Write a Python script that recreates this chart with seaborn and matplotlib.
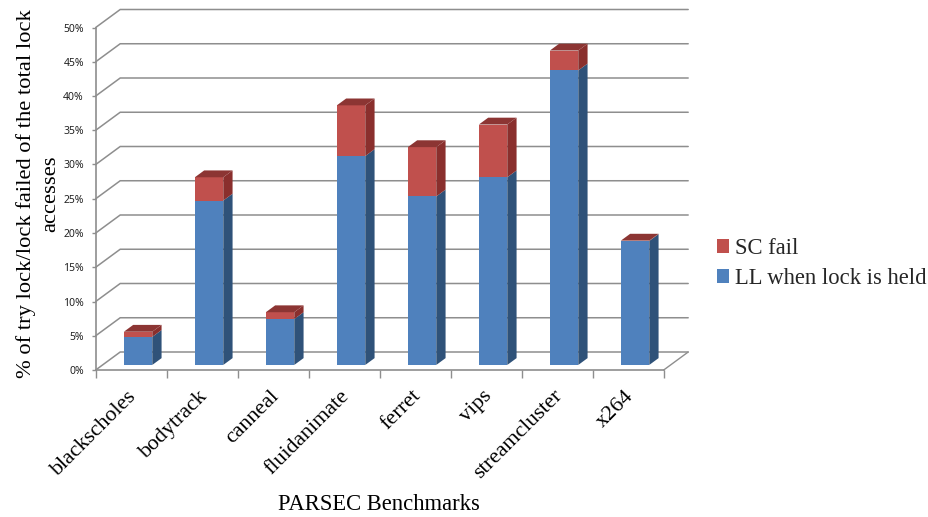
import matplotlib
matplotlib.use("Agg")
import matplotlib.pyplot as plt
import numpy as np
import pandas as pd
import seaborn as sns
from matplotlib.patches import Polygon
from matplotlib.transforms import ScaledTranslation

benchmarks = ["blackscholes", "bodytrack", "canneal", "fluidanimate",
              "ferret", "vips", "streamcluster", "x264"]
ll_when_held = [4.1, 24.0, 6.7, 30.5, 24.6, 27.4, 43.0, 18.1]
sc_fail = [0.75, 3.4, 1.0, 7.4, 7.2, 7.7, 2.9, 0.05]
y_ticks = list(range(0, 55, 5))

W, H = 929, 517
BLUE, BLUE_SIDE = "#4F81BD", "#2F5279"
RED, RED_SIDE, RED_TOP = "#C0504D", "#8A2F2D", "#8C3533"
GRID = "#8E8E8E"

sns.set_theme(style="white")
plt.rcParams["font.family"] = ["Liberation Serif", "DejaVu Sans"]

df = pd.DataFrame({"benchmark": benchmarks, "ll": ll_when_held, "sc": sc_fail})
df["total"] = df["ll"] + df["sc"]

fig = plt.figure(figsize=(W / 100, H / 100), dpi=100)
ax = fig.add_axes([95.7 / W, 1 - 370 / H, 568 / W, 342.5 / H])

sns.barplot(data=df, x="benchmark", y="total", color=RED, saturation=1, width=0.40,
            linewidth=0, label="SC fail", ax=ax, zorder=3)
sns.barplot(data=df, x="benchmark", y="ll", color=BLUE, saturation=1, width=0.40,
            linewidth=0, label="LL when lock is held", ax=ax, zorder=4)

n = len(benchmarks)
ax.set_xlim(-0.5, n - 0.5)
ax.set_ylim(0, 50)

# oblique depth vector of the pseudo-3D box, in data units
DX, DY = 24.5 / 71, 18 / 6.85
F0, F1 = 0.28, 0.66   # front / back of each bar as a fraction of the depth
x0, x1 = ax.get_xlim()

# wall and floor lines follow the y ticks
for t in y_ticks:
    ax.plot([x0, x0 + DX, x1 + DX], [t, t + DY, t + DY], color=GRID, lw=1.1,
            clip_on=False, zorder=1, solid_joinstyle="miter")
ax.plot([x1, x1 + DX], [0, DY], color=GRID, lw=1.0, clip_on=False, zorder=1)

# shift the front faces to their depth, add side and top faces
base = F0 * DY
for container in ax.containers:
    for p in container:
        p.set_x(p.get_x() + F0 * DX)
        p.set_y(base)
        p.set_clip_on(False)

dx = (F1 - F0) * DX
dy = (F1 - F0) * DY
for i, (ll, tot) in enumerate(zip(df["ll"], df["total"])):
    xl = i - 0.20 + F0 * DX
    xr = i + 0.20 + F0 * DX
    lo, mid, hi = base, base + ll, base + tot
    ax.add_patch(Polygon([(xr, lo), (xr + dx, lo + dy), (xr + dx, mid + dy), (xr, mid)],
                         fc=BLUE_SIDE, ec="none", zorder=3, clip_on=False))
    ax.add_patch(Polygon([(xr, mid), (xr + dx, mid + dy), (xr + dx, hi + dy), (xr, hi)],
                         fc=RED_SIDE, ec="none", zorder=3, clip_on=False))
    ax.add_patch(Polygon([(xl, hi), (xr, hi), (xr + dx, hi + dy), (xl + dx, hi + dy)],
                         fc=RED_TOP, ec="none", zorder=3, clip_on=False))

# axes furniture
sns.despine(ax=ax)
for s in ("left", "bottom"):
    ax.spines[s].set_color(GRID)
    ax.spines[s].set_linewidth(1.2)
ax.set_yticks(y_ticks)
ax.set_yticklabels([f"{t}%" for t in y_ticks], family="Noto Sans", fontsize=7.5,
                   color="#222222")
ax.tick_params(axis="y", length=3, width=1, color=GRID, pad=5.5, left=True)
ax.set_xticks(np.arange(n + 1) - 0.5)
ax.set_xticklabels([])
ax.tick_params(axis="x", which="major", length=5.5, width=1, color=GRID, bottom=True)
ax.set_xticks(np.arange(n), benchmarks, minor=True)
ax.tick_params(axis="x", which="minor", length=0, pad=9)
label_shift = ScaledTranslation(-4 / 100, -4 / 100, fig.dpi_scale_trans)
for lab in ax.get_xticklabels(minor=True):
    lab.set(rotation=45, ha="right", va="top", rotation_mode="anchor",
            fontsize=15.8, color="black")
    lab.set_transform(lab.get_transform() + label_shift)

ax.set_xlabel("")
ax.set_ylabel("")
fig.text(379 / W, 1 - 505 / H, "PARSEC Benchmarks", ha="center", va="center",
         fontsize=16.3, color="black")
fig.text(38 / W, 1 - 194 / H, "% of try lock/lock failed of the total lock\naccesses",
         rotation=90, ha="center", va="center", multialignment="center",
         fontsize=16.2, linespacing=1.33, color="black")

handles, labels = ax.get_legend_handles_labels()
fig.legend(handles, labels, loc="upper left", bbox_to_anchor=(717 / W, 1 - 238 / H),
           bbox_transform=fig.transFigure, frameon=False, fontsize=16.3,
           handlelength=0.53, handleheight=0.55, handletextpad=0.27,
           labelspacing=0.4, borderpad=0, borderaxespad=0)
if ax.get_legend():
    ax.get_legend().remove()

fig.savefig("out.png", dpi=100)
